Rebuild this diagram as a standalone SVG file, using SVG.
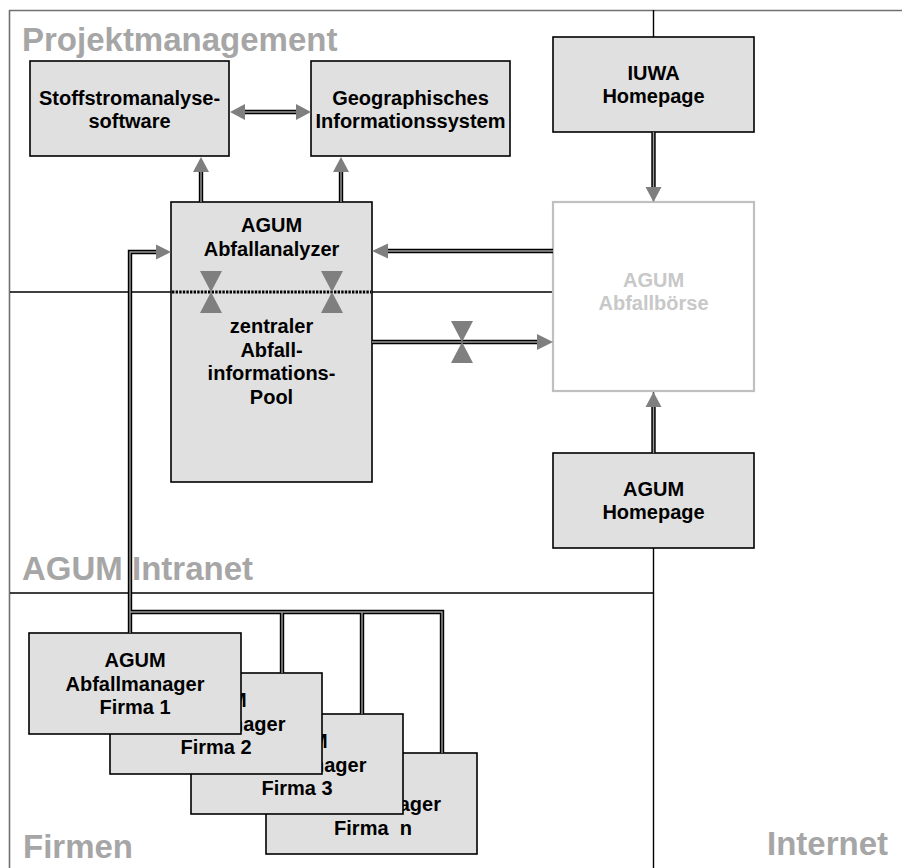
<svg xmlns="http://www.w3.org/2000/svg" width="902" height="868" viewBox="0 0 902 868">
<style>
.frame{stroke:#707070;stroke-width:1.6;fill:none}
.div{stroke:#000;stroke-width:1.4;fill:none}
.box{fill:#e0e0e0;stroke:#000;stroke-width:1.6}
.ghost{fill:#fff;stroke:#c0c0c0;stroke-width:2.2}
.t{font-family:"Liberation Sans",Arial,sans-serif;font-weight:bold;font-size:20px;fill:#000;text-anchor:middle}
.tg{fill:#c8c8c8}
.region{font-family:"Liberation Sans",Arial,sans-serif;font-weight:bold;font-size:33px;fill:#a6a6a6}
.co{stroke:#000;stroke-width:4.4;fill:none;stroke-linejoin:miter}
.ci{stroke:#9a9a9a;stroke-width:1.4;fill:none}
.head{fill:#7f7f7f}
.dots{stroke:#000;stroke-width:3;stroke-dasharray:2.4 1.2;fill:none}
</style>
<rect width="902" height="868" fill="#fff"/>
<g id="regions">
<line class="frame" x1="9" y1="10.5" x2="902" y2="10.5"/>
<line class="frame" x1="9.5" y1="10" x2="9.5" y2="868"/>
<line class="div" x1="653.5" y1="10" x2="653.5" y2="868"/>
<line class="div" x1="10" y1="292" x2="553" y2="292"/>
<line class="div" x1="10" y1="593" x2="653" y2="593"/>
<text class="region" x="22" y="51">Projektmanagement</text>
<text class="region" x="22" y="580">AGUM Intranet</text>
<text class="region" x="23" y="858">Firmen</text>
<text class="region" x="767" y="855">Internet</text>
</g>
<g id="stoff">
<rect class="box" x="30" y="61" width="199" height="95"/>
<text class="t" x="129.5" y="105">Stoffstromanalyse-</text>
<text class="t" x="129.5" y="128">software</text>
</g>
<g id="gis">
<rect class="box" x="311" y="61" width="199" height="95"/>
<text class="t" x="410.5" y="105">Geographisches</text>
<text class="t" x="410.5" y="128">Informationssystem</text>
</g>
<g id="iuwa">
<rect class="box" x="553" y="37" width="201" height="95"/>
<text class="t" x="653.5" y="80">IUWA</text>
<text class="t" x="653.5" y="103">Homepage</text>
</g>
<g id="analyzer">
<rect class="box" x="171" y="202" width="201" height="280"/>
<text class="t" x="271.5" y="232">AGUM</text>
<text class="t" x="271.5" y="256">Abfallanalyzer</text>
<line class="dots" x1="172" y1="292" x2="371" y2="292"/>
<text class="t" x="271.5" y="333">zentraler</text>
<text class="t" x="271.5" y="357">Abfall-</text>
<text class="t" x="271.5" y="380">informations-</text>
<text class="t" x="271.5" y="404">Pool</text>
</g>
<g id="boerse">
<rect class="ghost" x="553" y="202" width="201" height="189"/>
<text class="t tg" x="653.5" y="287">AGUM</text>
<text class="t tg" x="653.5" y="310">Abfallbörse</text>
</g>
<g id="agumhp">
<rect class="box" x="553" y="453" width="201" height="95"/>
<text class="t" x="653.5" y="496">AGUM</text>
<text class="t" x="653.5" y="519">Homepage</text>
</g>
<g id="firma-n">
<rect class="box" x="266" y="753" width="211" height="101"/>
<text class="t" x="371.5" y="787">AGUM</text>
<text class="t" x="371.5" y="811">Abfallmanager</text>
<text class="t" x="373" y="835" style="white-space:pre">Firma  n</text>
</g>
<g id="firma-3">
<rect class="box" x="191" y="714" width="212" height="100"/>
<text class="t" x="297" y="748">AGUM</text>
<text class="t" x="297" y="772">Abfallmanager</text>
<text class="t" x="297" y="795">Firma 3</text>
</g>
<g id="firma-2">
<rect class="box" x="110" y="673" width="212" height="101"/>
<text class="t" x="216" y="707">AGUM</text>
<text class="t" x="216" y="731">Abfallmanager</text>
<text class="t" x="216" y="754">Firma 2</text>
</g>
<g id="firma-1">
<rect class="box" x="29" y="633" width="212" height="101"/>
<text class="t" x="135" y="667">AGUM</text>
<text class="t" x="135" y="691">Abfallmanager</text>
<text class="t" x="135" y="714">Firma 1</text>
</g>
<g id="connectors">
<path class="co" d="M244,112H297 M201,202V171 M341,202V171 M653.5,132V187 M553,251H387 M372,342H537 M653.5,453V407 M130,633V252H156 M130,612H442V753 M282,612V673 M362,612V714"/>
<path class="ci" d="M244,112H297 M201,202V171 M341,202V171 M653.5,132V187 M553,251H387 M372,342H537 M653.5,453V407 M130,633V252H156 M130,612H442V753 M282,612V673 M362,612V714"/>
<polygon class="head" points="230,112 245,104 245,120"/>
<polygon class="head" points="311,112 296,104 296,120"/>
<polygon class="head" points="201,157 193,172 209,172"/>
<polygon class="head" points="341,157 333,172 349,172"/>
<polygon class="head" points="653.5,202 645.5,187 661.5,187"/>
<polygon class="head" points="372,251 388,243.5 388,258.5"/>
<polygon class="head" points="553,342 537,334 537,350"/>
<polygon class="head" points="653.5,392 645.5,407 661.5,407"/>
<polygon class="head" points="171,252 156,244.5 156,259.5"/>
<polygon class="head" points="200,271 222,271 211,292 222,313 200,313 211,292"/>
<polygon class="head" points="321,271 343,271 332,292 343,313 321,313 332,292"/>
<polygon class="head" points="451,321 473,321 462,342 473,363 451,363 462,342"/>
</g>
</svg>
